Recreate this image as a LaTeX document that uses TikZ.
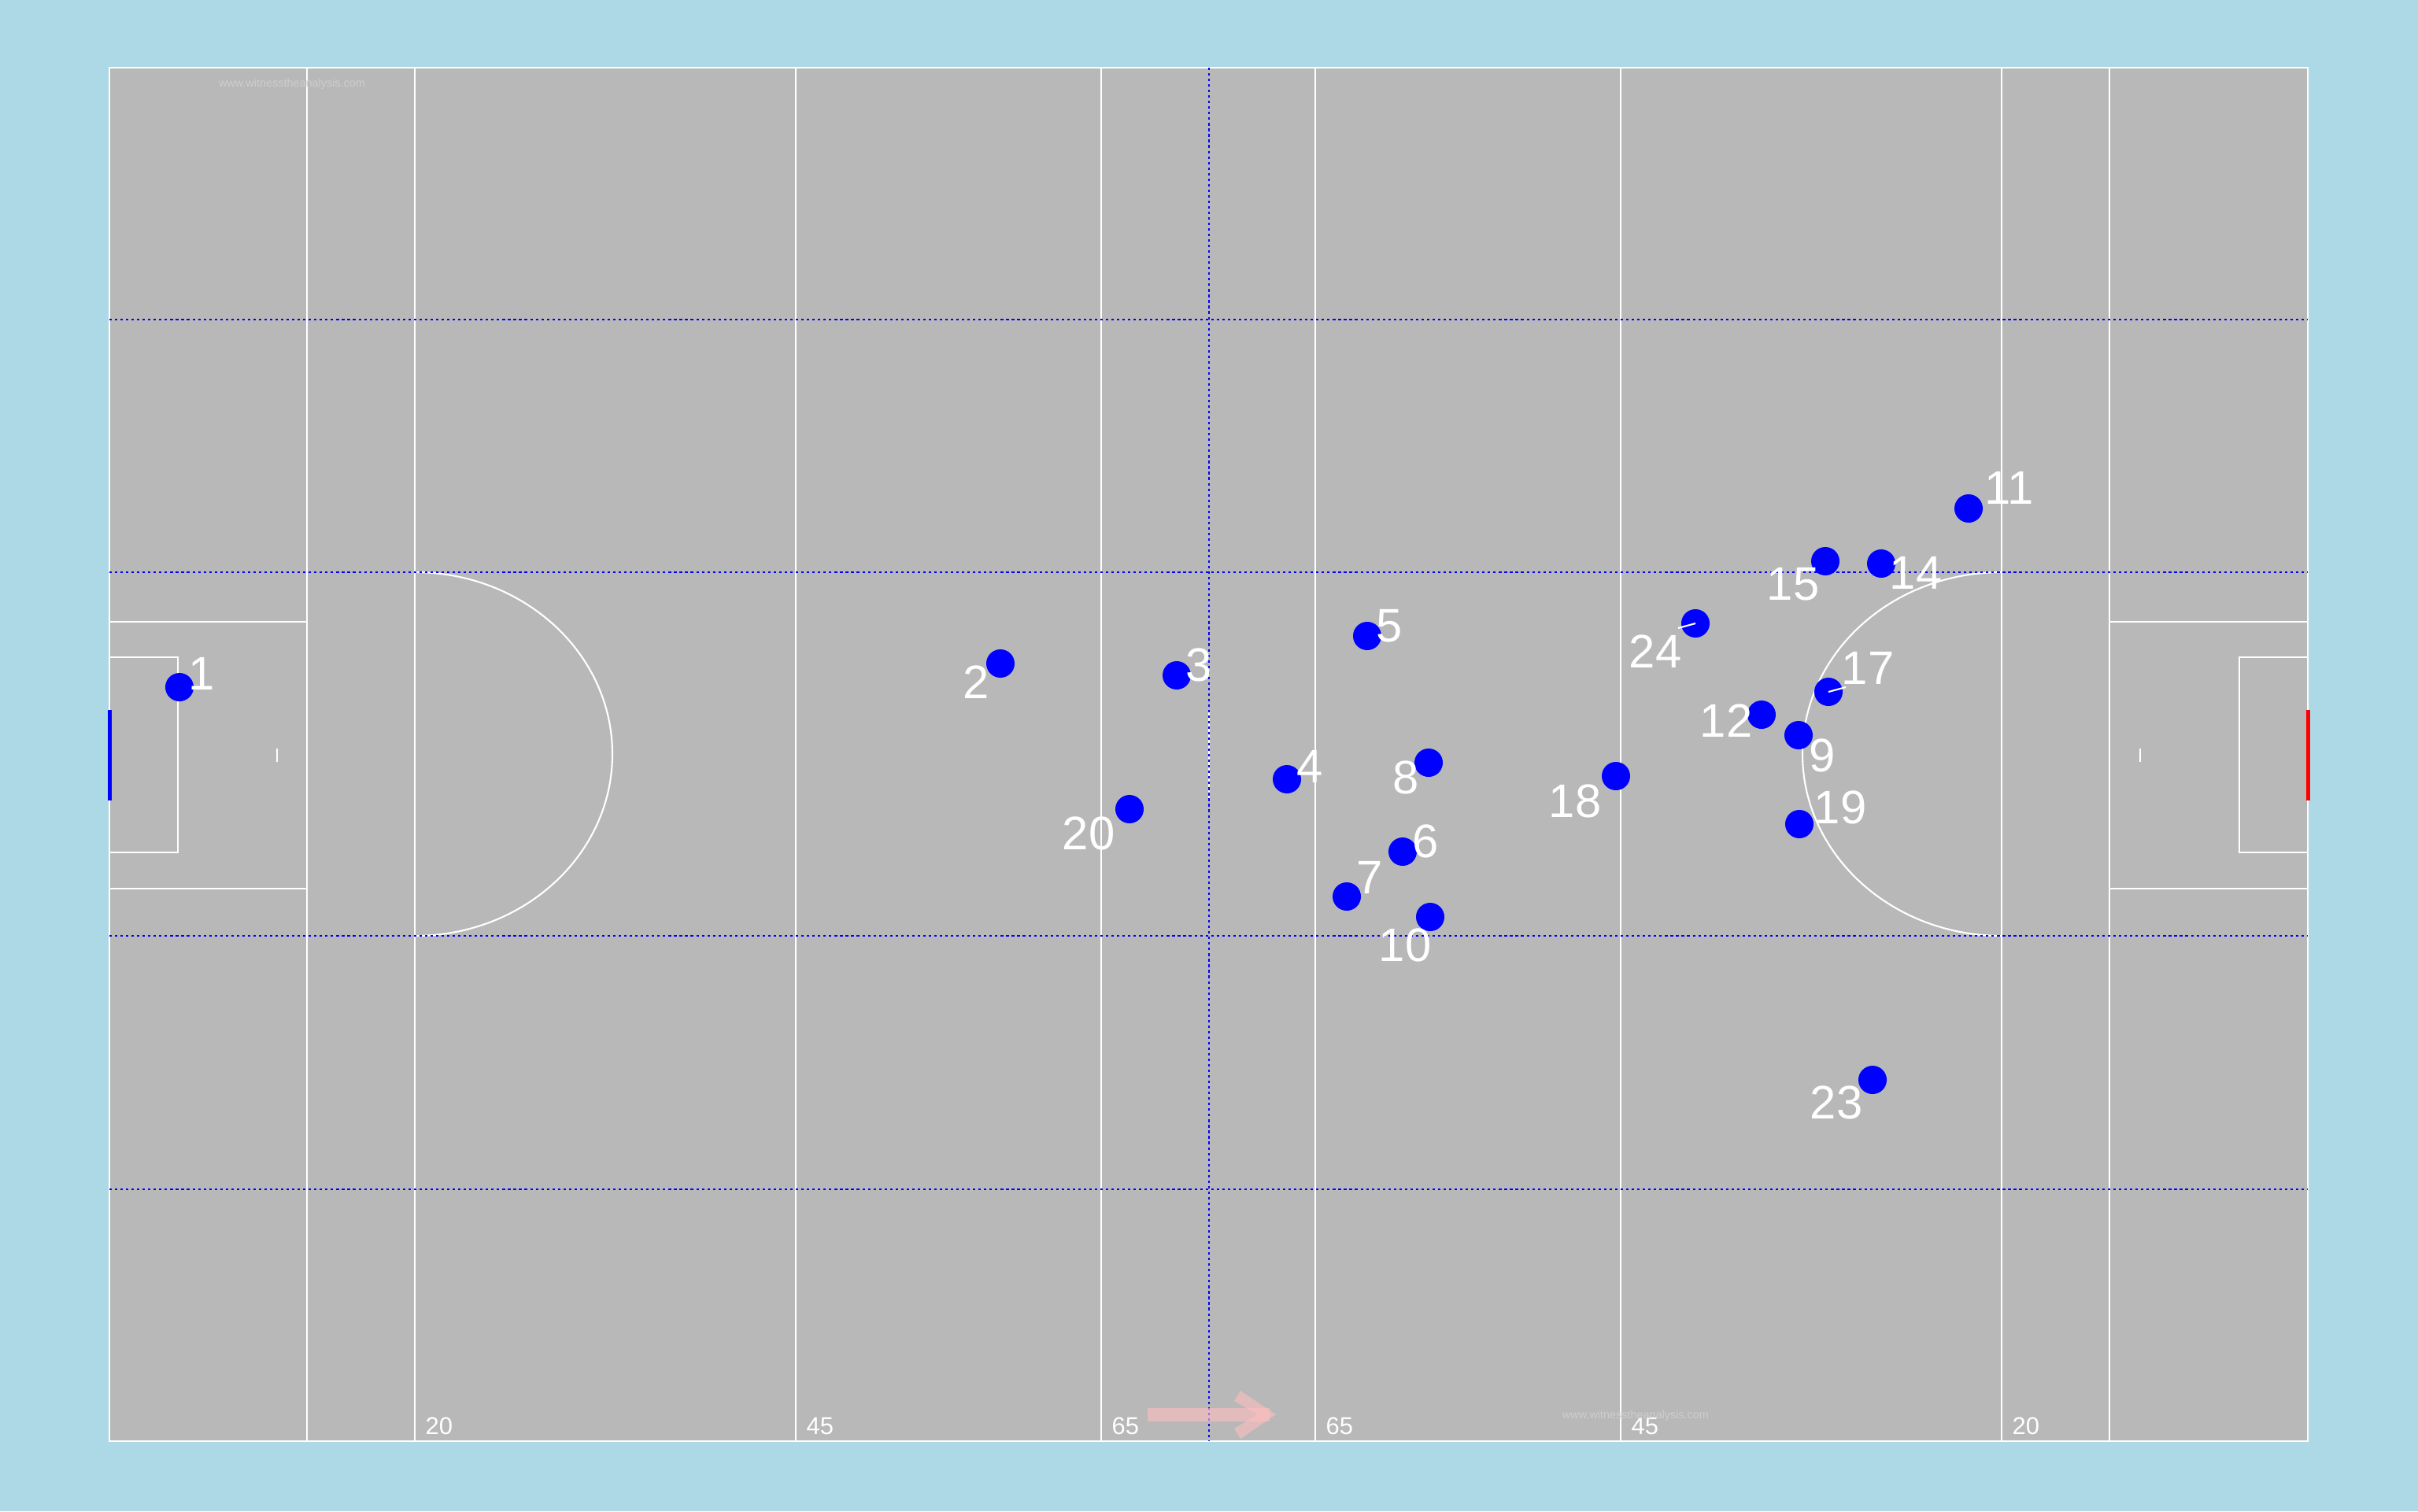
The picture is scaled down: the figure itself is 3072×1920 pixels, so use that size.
\documentclass[tikz,border=0pt]{standalone}
\usepackage{fontspec}
\setmainfont{Liberation Sans}

\definecolor{sky}{RGB}{173,216,230}
\definecolor{turf}{RGB}{184,184,184}
\definecolor{stamp}{RGB}{206,206,206}

\tikzstyle{player}=[circle,fill=blue,minimum size=0.36cm,inner sep=0pt]
\tikzstyle{jersey}=[text=white,inner sep=0pt,font=\fontsize{17}{17}\selectfont]
\tikzstyle{yard}=[text=white,inner sep=0pt,anchor=base west,font=\fontsize{8.8}{9}\selectfont]
\tikzstyle{stampmark}=[text=stamp,inner sep=0pt,font=\fontsize{4.1}{5}\selectfont]
\tikzstyle{pitchline}=[draw=white,line width=0.6pt]
\tikzstyle{zone}=[draw=blue,line width=0.6pt,dash pattern=on 0.9pt off 1.1pt]

\begin{document}
\begin{tikzpicture}[x=0.01cm,y=-0.01cm]
    \useasboundingbox (0,0) rectangle (3072,1920);
    \fill[sky] (0,0) rectangle (3072,1920);
    % First the grass and the lines
    \fill[turf] (139,86) rectangle (2932,1831);
    \draw[pitchline] (139,86) rectangle (2932,1831);
    \foreach \x in {390,527,1011,1399,1671,2059,2543,2680}
        \draw[pitchline] (\x,86) -- (\x,1831);
    \draw[pitchline] (139,790) -- (390,790) (139,1129) -- (390,1129);
    \draw[pitchline] (139,835) -- (226,835) -- (226,1083) -- (139,1083);
    \draw[pitchline] (2680,790) -- (2932,790) (2680,1129) -- (2932,1129);
    \draw[pitchline] (2932,835) -- (2845,835) -- (2845,1083) -- (2932,1083);
    \draw[pitchline] (352,951) -- (352,968) (2719,951) -- (2719,968) (1536,903) -- (1536,1017);
    \draw[pitchline] (527,727) arc[start angle=-90,end angle=90,x radius=251,y radius=231];
    \draw[pitchline] (2543,727) arc[start angle=-90,end angle=-270,x radius=253,y radius=231];
    % goals
    \fill[blue] (137,902) rectangle (142,1017);
    \fill[red] (2930,902) rectangle (2935,1017);
    % dotted zones
    \foreach \y in {406,727,1189,1511}
        \draw[zone] (139,\y) -- (2932,\y);
    \draw[zone] (1536,86) -- (1536,1831);
    % distances along the bottom
    \foreach \x/\t in {527/20,1011/45,1399/65,1671/65,2059/45,2543/20}
        \node[yard] (y\x) at (\x+13,1822) {\t};
    % direction of play
    \fill[pink,fill opacity=0.6] (1458,1789) rectangle (1613,1806);
    \fill[pink,fill opacity=0.6] (1576,1767) -- (1621,1797) -- (1576,1828) -- (1568,1815) -- (1598,1797) -- (1568,1780) -- cycle;
    \node[stampmark] (wm1) at (371,107) {www.witnesstheanalysis.com};
    \node[stampmark] (wm2) at (2078,1799) {www.witnesstheanalysis.com};
    % Then the players and their numbers
    \foreach \n/\x/\y/\lx/\ly in {1/228/873/256/856, 2/1271/843/1240/867, 3/1495/858/1523/845,
        4/1635/990/1664/974, 5/1737/808/1765/795, 6/1782/1082/1811/1069, 7/1711/1139/1740/1115,
        8/1815/969/1786/988, 9/2285/934/2315/960, 10/1817/1165/1785/1201, 11/2501/646/2553/620,
        12/2238/908/2193/916, 14/2390/716/2434/728, 15/2319/713/2278/742, 17/2323/879/2373/849,
        18/2053/986/2001/1018, 19/2286/1047/2338/1026, 20/1435/1028/1383/1059,
        23/2379/1372/2333/1401, 24/2154/792/2103/828}
    {
        \node[player] (p\n) at (\x,\y) {};
        \node[jersey] (n\n) at (\lx,\ly) {\n};
    }
    \coordinate (h17) at (2345,873);
    \coordinate (h24) at (2132,798);
    \draw[white,line width=0.6pt] (p17.center) -- (h17) (p24.center) -- (h24);
\end{tikzpicture}
\end{document}
